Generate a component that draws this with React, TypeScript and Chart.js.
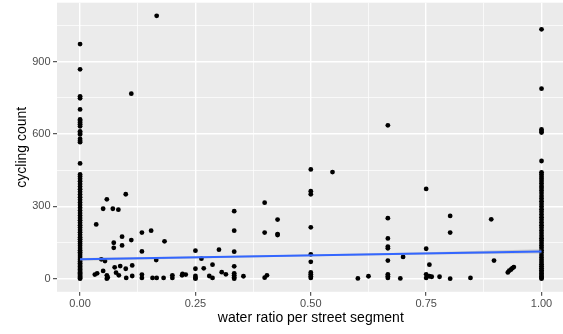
import React, { useEffect, useRef } from "react";
import { Chart, registerables } from "chart.js";

Chart.register(...registerables);

// Cycling counts on segments with no water (ratio 0)
const zeroRatioCounts = [
  0, 3, 7, 11, 16, 21, 26, 32, 38, 44, 50, 57, 64, 71, 78, 86, 94, 102, 110, 118,
  127, 136, 145, 154, 163, 172, 182, 192, 202, 212, 222, 232, 242, 252, 262, 272,
  283, 294, 305, 316, 327, 338, 349, 360, 371, 382, 393, 404, 414, 424, 432, 478,
  566, 572, 580, 598, 604, 611, 632, 640, 648, 655, 660, 702, 748, 756, 868, 973,
];

// Cycling counts on segments fully along water (ratio 1)
const fullRatioCounts = [
  0, 4, 9, 15, 21, 28, 35, 43, 51, 60, 69, 78, 88, 98, 108, 118, 128, 138, 148,
  158, 168, 178, 189, 200, 211, 222, 233, 244, 255, 266, 277, 288, 299, 310, 321,
  332, 343, 355, 366, 376, 384, 395, 405, 414, 423, 432, 441, 488, 606, 612, 619,
  788, 1034,
];

// Segments with a partial water ratio
const mixedRatios = [
  0.032, 0.035, 0.037, 0.046, 0.05, 0.05, 0.054, 0.058, 0.058, 0.058, 0.06, 0.071,
  0.073, 0.073, 0.075, 0.078, 0.083, 0.084, 0.087, 0.091, 0.091, 0.099, 0.099, 0.1,
  0.111, 0.111, 0.113, 0.113, 0.134, 0.134, 0.134, 0.134, 0.154, 0.157, 0.165, 0.166,
  0.166, 0.181, 0.183, 0.2, 0.2, 0.221, 0.222, 0.229,
  0.25, 0.25, 0.25, 0.25, 0.25,
  0.263, 0.268, 0.28, 0.287, 0.287, 0.301, 0.307, 0.316,
  0.334, 0.334, 0.334, 0.334, 0.334, 0.334, 0.334, 0.334,
  0.354, 0.4, 0.4, 0.4, 0.405, 0.428, 0.428, 0.428,
  0.5, 0.5, 0.5, 0.5, 0.5, 0.5, 0.5, 0.5, 0.5, 0.5,
  0.547, 0.602, 0.625,
  0.667, 0.667, 0.667, 0.667, 0.667, 0.667, 0.667, 0.667, 0.667,
  0.694, 0.7,
  0.75, 0.75, 0.757, 0.75, 0.75, 0.757, 0.762,
  0.779, 0.802, 0.802, 0.802, 0.846, 0.891, 0.897, 0.927, 0.93, 0.934, 0.937, 0.94,
];
const mixedCounts = [
  17, 225, 22, 80, 290, 32, 73, 329, 14, 0, 5, 290,
  128, 149, 47, 25, 286, 14, 52, 138, 174, 350, 41, 3,
  160, 767, 55, 11, 191, 113, 17, 3, 199, 3, 77, 1090,
  3, 3, 155, 14, 3, 14, 20, 17,
  116, 41, 11, 3, 0,
  83, 43, 11, 58, 3, 120, 27, 18,
  280, 199, 112, 51, 22, 14, 6, 0,
  10, 315, 191, 4, 14, 245, 185, 181,
  453, 363, 350, 213, 101, 70, 26, 18, 10, 3,
  442, 1, 10,
  636, 251, 167, 133, 126, 75, 18, 10, 3,
  1, 90,
  372, 124, 58, 18, 3, 10, 8,
  8, 260, 191, 0, 3, 246, 75, 26, 33, 38, 44, 48,
];

// Linear fit and its confidence band
const fitRatios = [0, 1];
const fitCounts = [80, 113];
const bandRatios = [0, 0.25, 0.5, 0.75, 1];
const bandLower = [74, 84, 93, 100, 104];
const bandUpper = [86, 92, 100, 110, 122];

// Axis breaks
const xMajorTicks = [0, 0.25, 0.5, 0.75, 1];
const xMinorTicks = [0.125, 0.375, 0.625, 0.875];
const yMajorTicks = [0, 300, 600, 900];
const yMinorTicks = [150, 450, 750, 1050];

const FONT = "'Liberation Sans', Arial, sans-serif";

const panelBackground = {
  id: "panelBackground",
  beforeDraw(chart: any) {
    const { ctx, width, height, chartArea } = chart;
    ctx.save();
    ctx.fillStyle = "#FFFFFF";
    ctx.fillRect(0, 0, width, height);
    ctx.fillStyle = "#EBEBEB";
    ctx.fillRect(
      chartArea.left,
      chartArea.top,
      chartArea.right - chartArea.left,
      chartArea.bottom - chartArea.top
    );
    ctx.restore();
  },
};

function gridAxis(major: number[], minor: number[], fmt: (v: number) => string) {
  const isMajor = (c: any) => c.tick && major.includes(c.tick.value);
  return {
    afterBuildTicks: (scale: any) => {
      scale.ticks = [...major, ...minor]
        .sort((a, b) => a - b)
        .map((value) => ({ value }));
    },
    grid: {
      color: "#FFFFFF",
      lineWidth: (c: any) => (isMajor(c) ? 1.4 : 0.7),
      drawTicks: true,
      tickLength: 4,
      tickWidth: 1,
      tickColor: (c: any) => (isMajor(c) ? "#333333" : "rgba(0,0,0,0)"),
    },
    border: { display: false },
    ticks: {
      autoSkip: false,
      maxRotation: 0,
      minRotation: 0,
      color: "#4D4D4D",
      font: { family: FONT, size: 11 },
      callback: (v: any) => (major.includes(v) ? fmt(v) : ""),
    },
  };
}

export default function App() {
  const canvasRef = useRef<HTMLCanvasElement | null>(null);

  useEffect(() => {
    if (!canvasRef.current) return;

    const points = [
      ...zeroRatioCounts.map((y) => ({ x: 0, y })),
      ...fullRatioCounts.map((y) => ({ x: 1, y })),
      ...mixedRatios.map((x, i) => ({ x, y: mixedCounts[i] })),
    ];

    const xAxis: any = gridAxis(xMajorTicks, xMinorTicks, (v) => v.toFixed(2));
    const yAxis: any = gridAxis(yMajorTicks, yMinorTicks, (v) => String(v));

    const chart = new Chart(canvasRef.current, {
      type: "scatter",
      data: {
        datasets: [
          {
            label: "fit",
            data: fitRatios.map((x, i) => ({ x, y: fitCounts[i] })),
            showLine: true,
            borderColor: "#3366FF",
            borderWidth: 2,
            pointRadius: 0,
            order: 1,
          },
          {
            label: "band lower",
            data: bandRatios.map((x, i) => ({ x, y: bandLower[i] })),
            showLine: true,
            borderColor: "rgba(0,0,0,0)",
            borderWidth: 0,
            pointRadius: 0,
            fill: false,
            order: 2,
          },
          {
            label: "band upper",
            data: bandRatios.map((x, i) => ({ x, y: bandUpper[i] })),
            showLine: true,
            borderColor: "rgba(0,0,0,0)",
            borderWidth: 0,
            pointRadius: 0,
            fill: "-1",
            backgroundColor: "rgba(153,153,153,0.4)",
            order: 2,
          },
          {
            label: "segments",
            data: points,
            backgroundColor: "#000000",
            borderWidth: 0,
            pointRadius: 2.4,
            pointHoverRadius: 2.4,
            order: 3,
          },
        ],
      },
      options: {
        animation: false,
        responsive: false,
        devicePixelRatio: 1,
        layout: { padding: { top: 2.7, left: 0, right: 0, bottom: 0 } },
        plugins: {
          legend: { display: false },
          tooltip: { enabled: false },
        },
        scales: {
          x: {
            ...xAxis,
            type: "linear",
            min: -0.05,
            max: 1.05,
            afterFit: (s: any) => {
              s.height = 42.2;
              s.paddingLeft = 0;
              s.paddingRight = 0;
            },
            ticks: { ...xAxis.ticks, padding: 2 },
            title: {
              display: true,
              text: "water ratio per street segment",
              color: "#000000",
              font: { family: FONT, size: 14 },
              padding: { top: 0, bottom: 7 },
            },
          },
          y: {
            ...yAxis,
            type: "linear",
            min: -54.5,
            max: 1144.5,
            afterFit: (s: any) => {
              s.width = 57;
              s.paddingTop = 0;
              s.paddingBottom = 0;
            },
            ticks: { ...yAxis.ticks, padding: 2.5 },
            title: {
              display: true,
              text: "cycling count",
              color: "#000000",
              font: { family: FONT, size: 14 },
              padding: { top: 13.6, bottom: 0 },
            },
          },
        },
      },
      plugins: [panelBackground],
    });

    return () => chart.destroy();
  }, []);

  return (
    <div
      style={{
        position: "fixed",
        left: 0,
        top: 0,
        width: 563,
        height: 334,
        overflow: "hidden",
        background: "#FFFFFF",
      }}
    >
      <canvas ref={canvasRef} width={567} height={334} style={{ display: "block" }} />
    </div>
  );
}
